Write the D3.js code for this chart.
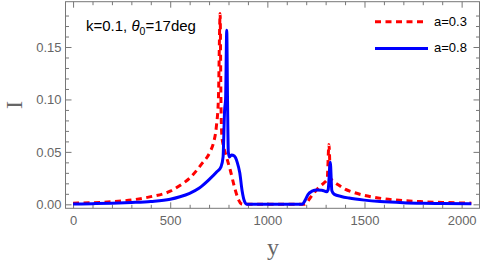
<!DOCTYPE html>
<html>
<head>
<meta charset="utf-8">
<script src="https://cdn.jsdelivr.net/npm/d3@7"></script>
<style>
  body { margin: 0; background: #fff; }
  svg { display: block; }
  .tick text { font-family: "Liberation Sans", Arial, sans-serif; font-size: 13px; fill: #666; }
  .tick line { stroke: #777; }
</style>
</head>
<body>
<div id="vis"></div>
<script>
// a = 0.3 (red dashed)
const redY = [0, 100, 200, 300, 400, 500, 550, 600, 660, 705, 722, 738, 748, 757, 761, 766, 775, 790, 810, 830, 850, 866, 880,
  1190, 1200, 1220, 1245, 1270, 1295, 1308, 1317, 1325, 1340, 1370, 1400, 1450, 1500, 1550, 1600, 1700, 1800, 1900, 2000, 2050]
const redI = [0.0011, 0.0015, 0.0025, 0.0041, 0.0073, 0.0125, 0.018, 0.025, 0.038, 0.050, 0.058, 0.075, 0.10, 0.182, 0.10, 0.065, 0.055, 0.045, 0.032, 0.017, 0.005, 0.0005, 0,
  0, 0.001, 0.006, 0.012, 0.017, 0.021, 0.024, 0.057, 0.025, 0.022, 0.018, 0.0145, 0.011, 0.0085, 0.0067, 0.0053, 0.0035, 0.0025, 0.0018, 0.0013, 0.0011]

// a = 0.8 (blue solid)
const blueY = [0, 100, 200, 300, 400, 500, 550, 600, 650, 700, 740, 762, 772, 780, 785, 791, 795, 799, 805, 815, 830, 845, 858, 870, 882, 895,
  1180, 1195, 1210, 1230, 1255, 1280, 1305, 1313, 1324, 1332, 1345, 1380, 1420, 1500, 1580, 1700, 1800, 1900, 2050]
const blueI = [0.0003, 0.0006, 0.001, 0.0017, 0.0027, 0.0048, 0.0072, 0.0105, 0.0155, 0.0235, 0.031, 0.036, 0.045, 0.09, 0.10, 0.166, 0.10, 0.05, 0.045, 0.047, 0.046, 0.040, 0.030, 0.013, 0.003, 0,
  0, 0.004, 0.0095, 0.0125, 0.0137, 0.0135, 0.012, 0.014, 0.040, 0.013, 0.0095, 0.0075, 0.006, 0.004, 0.0027, 0.0016, 0.0011, 0.0008, 0.0006]

const xMajor = [0, 500, 1000, 1500, 2000]
const yMajor = [0, 0.05, 0.10, 0.15]
const legendLabels = ["a=0.3", "a=0.8"]

const W = 480, H = 262
const frame = {left: 65.5, right: 479.5, top: 1.7, bottom: 208.3}

const svg = d3.select('#vis')
  .append('svg')
  .attr('width', W)
  .attr('height', H)

const xScale = d3.scaleLinear().domain([-39, 2092]).range([frame.left, frame.right])
const yScale = d3.scaleLinear().domain([-0.0038, 0.1932]).range([frame.bottom, frame.top])

const xMinor = d3.range(-0, 2100, 100).filter(v => !xMajor.includes(v))
const yMinor = d3.range(0, 0.19, 0.01).map(v => +v.toFixed(2)).filter(v => !yMajor.some(m => Math.abs(m - v) < 1e-9))

// frame ticks, all pointing inward
function addAxis(gen, ticks, size, fmt, tx, ty, pad) {
  const g = svg.append('g')
    .attr('transform', `translate(${tx},${ty})`)
    .call(gen.tickValues(ticks).tickSizeInner(size).tickSizeOuter(0).tickPadding(pad).tickFormat(fmt))
  g.select('.domain').remove()
  return g
}
addAxis(d3.axisBottom(xScale), xMajor, -6, d3.format('d'), 0, frame.bottom, 7)
addAxis(d3.axisBottom(xScale), xMinor, -3.5, () => '', 0, frame.bottom, 0)
addAxis(d3.axisTop(xScale), xMajor, -6, () => '', 0, frame.top, 0)
addAxis(d3.axisTop(xScale), xMinor, -3.5, () => '', 0, frame.top, 0)
addAxis(d3.axisLeft(yScale), yMajor, -6, d3.format('.2f'), frame.left, 0, 4)
addAxis(d3.axisLeft(yScale), yMinor, -3.5, () => '', frame.left, 0, 0)
addAxis(d3.axisRight(yScale), yMajor, -6, () => '', frame.right, 0, 0)
addAxis(d3.axisRight(yScale), yMinor, -3.5, () => '', frame.right, 0, 0)

svg.append('rect')
  .attr('x', frame.left)
  .attr('y', frame.top)
  .attr('width', frame.right - frame.left)
  .attr('height', frame.bottom - frame.top)
  .attr('fill', 'none')
  .attr('stroke', '#777')
  .attr('stroke-width', 1)

const clip = svg.append('clipPath').attr('id', 'clip')
  .append('rect')
  .attr('x', frame.left).attr('y', frame.top)
  .attr('width', frame.right - frame.left).attr('height', frame.bottom - frame.top)

const line = d3.line()
  .x(d => xScale(d[0]))
  .y(d => yScale(d[1]))
  .curve(d3.curveMonotoneX)

const series = [
  {label: legendLabels[0], pts: d3.zip(redY, redI), color: '#ff0000', dash: '6,4.5'},
  {label: legendLabels[1], pts: d3.zip(blueY, blueI), color: '#0000ff', dash: null}
]

svg.append('g').attr('clip-path', 'url(#clip)')
  .selectAll('path')
  .data(series)
  .join('path')
  .attr('d', d => line(d.pts))
  .attr('fill', 'none')
  .attr('stroke', d => d.color)
  .attr('stroke-width', 3)
  .attr('stroke-linejoin', 'round')
  .attr('stroke-dasharray', d => d.dash)

// legend
const legend = svg.append('g')
legend.selectAll('line')
  .data(series)
  .join('line')
  .attr('x1', 375)
  .attr('x2', (d, i) => i === 0 ? 424 : 428)
  .attr('y1', (d, i) => 21.7 + i * 26.8)
  .attr('y2', (d, i) => 21.7 + i * 26.8)
  .attr('stroke', d => d.color)
  .attr('stroke-width', 3)
  .attr('stroke-dasharray', d => d.dash)
legend.selectAll('text')
  .data(series)
  .join('text')
  .attr('x', 434)
  .attr('y', (d, i) => 25.5 + i * 26.8)
  .style('font-family', '"Liberation Sans", Arial, sans-serif')
  .style('font-size', '13px')
  .attr('fill', '#000')
  .text(d => d.label)

// annotation
const note = svg.append('text')
  .attr('x', 86)
  .attr('y', 31)
  .style('font-family', '"Liberation Sans", Arial, sans-serif')
  .style('font-size', '15px')
  .attr('fill', '#000')
note.append('tspan').text('k=0.1, ')
note.append('tspan').style('font-style', 'italic').text('θ')
note.append('tspan').attr('dy', 4).style('font-size', '10.5px').text('0')
note.append('tspan').attr('dy', -4).text('=17deg')

// axis labels
svg.append('text')
  .attr('transform', 'translate(21.5,105) rotate(-90)')
  .attr('text-anchor', 'middle')
  .style('font-family', '"Liberation Serif", "Times New Roman", serif')
  .style('font-size', '24px')
  .attr('fill', '#666')
  .text('I')

svg.append('text')
  .attr('x', 273)
  .attr('y', 255)
  .attr('text-anchor', 'middle')
  .style('font-family', '"Liberation Serif", "Times New Roman", serif')
  .style('font-size', '24px')
  .attr('fill', '#666')
  .text('y')
</script>
</body>
</html>
